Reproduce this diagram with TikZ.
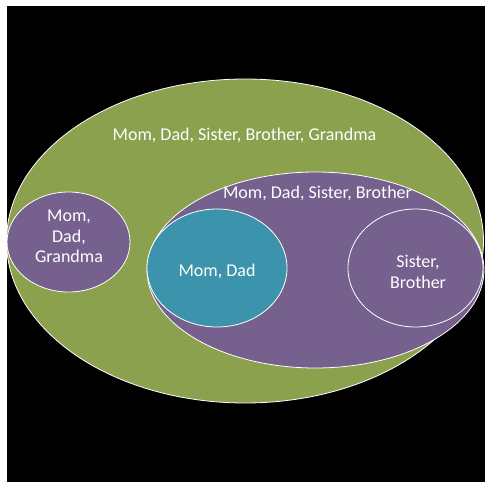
\documentclass[tikz,border=0pt]{standalone}
\usepackage{fontspec}
\setmainfont{Carlito}
\usetikzlibrary{shapes.geometric}
\definecolor{setgreen}{RGB}{139,161,78}
\definecolor{setpurple}{RGB}{117,96,142}
\definecolor{setteal}{RGB}{59,148,171}
\tikzset{
  setblob/.style={ellipse, draw=white, line width=0.8pt, inner sep=0pt},
  setlabel/.style={text=white, align=center, inner sep=0pt,
    font=\fontsize{18}{20.5}\selectfont}
}
\begin{document}
\begin{tikzpicture}[x=1pt,y=-1pt]
  \useasboundingbox (0,0) rectangle (485,482);
  \fill[white] (0,0) rectangle (485,482);
  \fill[black] (7,6) rectangle (485,482);

  % whole family
  \node[setblob, fill=setgreen, minimum width=477pt, minimum height=324pt] (all) at (245,241) {};
  \node[setlabel, anchor=base] (allt) at (244.5,140) {Mom, Dad, Sister, Brother, Grandma};

  % parents and grandma
  \node[setblob, fill=setpurple, minimum width=123pt, minimum height=100pt] (grand) at (68.5,242) {};
  \node[setlabel, anchor=north] (grandt) at (69,210) {Mom,\\Dad,\\Grandma};

  % parents and children
  \node[setblob, fill=setpurple, minimum width=337pt, minimum height=196pt] (core) at (315.5,270) {};
  \node[setlabel, anchor=base] (coret) at (317.5,198) {Mom, Dad, Sister, Brother};

  \node[setblob, fill=setteal, minimum width=140pt, minimum height=118pt] (parents) at (217,268) {};
  \node[setlabel, anchor=base] (parentst) at (217,276) {Mom, Dad};

  \node[setblob, fill=setpurple, minimum width=135pt, minimum height=118pt] (kids) at (415.5,268) {};
  \node[setlabel, anchor=north] (kidst) at (418,255) {Sister,\\Brother};
\end{tikzpicture}
\end{document}
